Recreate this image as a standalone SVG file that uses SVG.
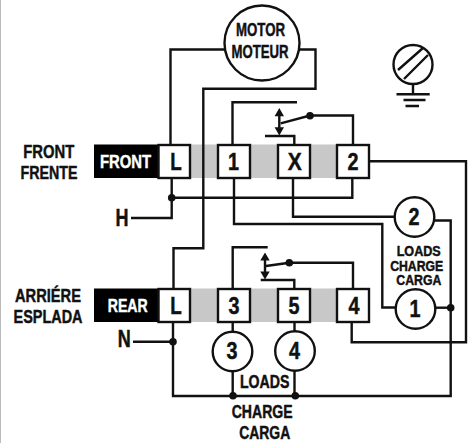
<svg xmlns="http://www.w3.org/2000/svg" width="474" height="443" viewBox="0 0 474 443">
<style>
.w{fill:none;stroke:#111;stroke-width:2.4}
.t{font-family:"Liberation Sans",Arial,sans-serif;font-weight:700;fill:#111;stroke:#111;stroke-width:.45;text-anchor:middle}
.l{font-size:18.500px}
.m{font-size:18px}
.s{font-size:14px}
.i{fill:#fff;stroke:#fff}
.b{fill:#fff;stroke:#111;stroke-width:2.4}
.n{font-size:23px}
.k{fill:#111}
</style>
<rect width="474" height="443" fill="#fff"/>
<rect x="0" y="0" width="1" height="443" fill="#bbb"/>
<g id="bars">
<rect x="94" y="144.500" width="64" height="33.500" fill="#000"/>
<rect x="158" y="144.500" width="210" height="33.500" fill="#c8c8c8"/>
<rect x="94" y="288.500" width="64" height="33.500" fill="#000"/>
<rect x="158" y="288.500" width="210" height="33.500" fill="#c8c8c8"/>
</g>
<g id="connectors">
<path class="w" d="M226 49.500H170.500V145"/>
<path class="w" d="M298 49.500H315.500V88.700H203.300V248.300H173.500V289"/>
<path class="w" d="M171.700 178V218H131"/>
<path class="w" d="M171.700 197.700H352.300V178"/>
<path class="w" d="M232.500 145V102.300H297"/>
<path class="w" d="M294.300 145V136H265"/>
<path class="w" d="M280.700 123.300L310 115.500H353V145"/>
<path class="w" d="M368 161.300H466V342.300H351.700V322"/>
<path class="w" d="M234 178V224H382.300V307.500H396"/>
<path class="w" d="M293 178V216.700H396"/>
<path class="w" d="M432 220.500H450.700V396H173V322"/>
<path class="w" d="M434 307.700H450.700"/>
<path class="w" d="M133 341.700H173"/>
<path class="w" d="M232.700 289V247.300H267.700"/>
<path class="w" d="M294.300 289V280H260.700"/>
<path class="w" d="M266 266L289.300 262.700H353V289"/>
<path class="w" d="M232.700 322V396"/>
<path class="w" d="M294.500 322V396"/>
</g>
<g id="dots" class="k">
<circle cx="171.700" cy="197.700" r="3.800"/><circle cx="310" cy="115.700" r="3.800"/><circle cx="173" cy="341.700" r="3.800"/><circle cx="289.300" cy="262.700" r="3.800"/><circle cx="450.700" cy="307.700" r="3.800"/><circle cx="233" cy="395.700" r="3.800"/><circle cx="295.300" cy="395.700" r="3.800"/>
</g>
<g id="arrows" class="k">
<path d="M279.300 108l-4.700 8.200h9.400zM279.300 135.500l-4.700-8.200h9.400z"/><path class="w" d="M279.300 112V132"/>
<path d="M265 252.500l-4.700 8h9.400zM265 279.500l-4.700-8h9.400z"/><path class="w" d="M265 257V275"/>
</g>
<g id="motor"><circle cx="262" cy="43" r="37.500" class="b"/><text class="t m" x="260.500" y="36" textLength="49" lengthAdjust="spacingAndGlyphs">MOTOR</text><text class="t m" x="260" y="58.300" textLength="57" lengthAdjust="spacingAndGlyphs">MOTEUR</text></g>
<g id="ground" fill="none" stroke="#111" stroke-width="2.400"><circle cx="413" cy="64.500" r="19.500"/><path d="M398 70L423 48M404 79L428 55M413 84V94M396.500 94.300H429.700M403.500 100H425.500M405.500 106H419"/></g>
<g id="t-fl"><rect class="b" x="158.500" y="145" width="31.500" height="33"/><text class="t n" x="176" y="170" textLength="11.500" lengthAdjust="spacingAndGlyphs">L</text></g>
<g id="t-f1"><rect class="b" x="218" y="145" width="32" height="33"/><text class="t n" x="233.500" y="170" textLength="11" lengthAdjust="spacingAndGlyphs">1</text></g>
<g id="t-fx"><rect class="b" x="278" y="145" width="32" height="33"/><text class="t n" x="294.800" y="170" textLength="14" lengthAdjust="spacingAndGlyphs">X</text></g>
<g id="t-f2"><rect class="b" x="337" y="145" width="32" height="33"/><text class="t n" x="353" y="170" textLength="11" lengthAdjust="spacingAndGlyphs">2</text></g>
<g id="t-rl"><rect class="b" x="158.500" y="289" width="31.500" height="33"/><text class="t n" x="176" y="313.500" textLength="11.500" lengthAdjust="spacingAndGlyphs">L</text></g>
<g id="t-r3"><rect class="b" x="218" y="289" width="32" height="33"/><text class="t n" x="234" y="314" textLength="11" lengthAdjust="spacingAndGlyphs">3</text></g>
<g id="t-r5"><rect class="b" x="278" y="289" width="32" height="33"/><text class="t n" x="294" y="314" textLength="11" lengthAdjust="spacingAndGlyphs">5</text></g>
<g id="t-r4"><rect class="b" x="337" y="289" width="32" height="33"/><text class="t n" x="354" y="314" textLength="11" lengthAdjust="spacingAndGlyphs">4</text></g>
<g id="load2"><circle class="b" cx="414.500" cy="217" r="19.800"/><text class="t n" x="414" y="225" textLength="11" lengthAdjust="spacingAndGlyphs">2</text></g>
<g id="load1"><circle class="b" cx="415.500" cy="309" r="19.800"/><text class="t n" x="415" y="317" textLength="11" lengthAdjust="spacingAndGlyphs">1</text></g>
<g id="load3"><circle class="b" cx="232.500" cy="351.500" r="19.800"/><text class="t n" x="232" y="359" textLength="11" lengthAdjust="spacingAndGlyphs">3</text></g>
<g id="load4"><circle class="b" cx="295" cy="351" r="19.800"/><text class="t n" x="294.500" y="359" textLength="11" lengthAdjust="spacingAndGlyphs">4</text></g>
<g id="labels">
<text class="t l" x="48.700" y="157.500" textLength="51" lengthAdjust="spacingAndGlyphs">FRONT</text><text class="t l" x="49" y="179" textLength="57" lengthAdjust="spacingAndGlyphs">FRENTE</text>
<text class="t l i" x="125.500" y="168" textLength="51" lengthAdjust="spacingAndGlyphs">FRONT</text>
<text class="t l" x="48" y="301.700" textLength="66" lengthAdjust="spacingAndGlyphs">ARRIÉRE</text><text class="t l" x="48" y="323.300" textLength="69" lengthAdjust="spacingAndGlyphs">ESPLADA</text>
<text class="t l i" x="127.700" y="312" textLength="40" lengthAdjust="spacingAndGlyphs">REAR</text>
<text class="t n" x="122" y="226" textLength="13" lengthAdjust="spacingAndGlyphs">H</text><text class="t n" x="124.200" y="346.700" textLength="13" lengthAdjust="spacingAndGlyphs">N</text>
<text class="t s" x="418.700" y="255.700" textLength="44" lengthAdjust="spacingAndGlyphs">LOADS</text><text class="t s" x="416.700" y="270.700" textLength="53" lengthAdjust="spacingAndGlyphs">CHARGE</text><text class="t s" x="418.800" y="285" textLength="45" lengthAdjust="spacingAndGlyphs">CARGA</text>
<text class="t m" x="264.700" y="388.300" textLength="49.500" lengthAdjust="spacingAndGlyphs">LOADS</text><text class="t m" x="262.200" y="418.300" textLength="61" lengthAdjust="spacingAndGlyphs">CHARGE</text><text class="t m" x="264.700" y="439.300" textLength="51" lengthAdjust="spacingAndGlyphs">CARGA</text>
</g>
</svg>
